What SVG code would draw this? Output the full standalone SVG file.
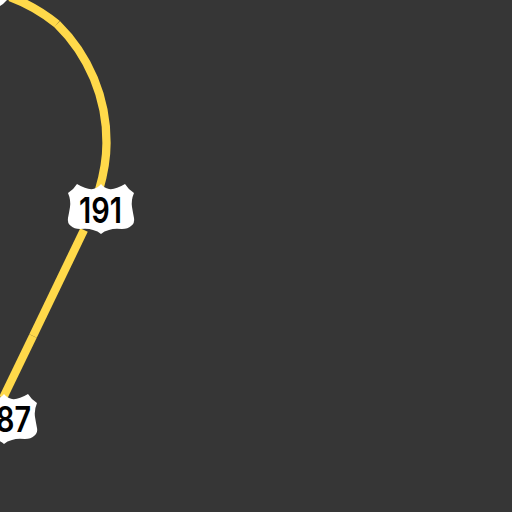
<svg xmlns="http://www.w3.org/2000/svg" width="512" height="512" viewBox="0 0 512 512">
<style>
.road{fill:none;stroke:#ffd94a;stroke-width:8.300}
.shield{fill:#fff}
.num{font-family:Inter,"Liberation Sans",sans-serif;font-size:35px;font-weight:600;fill:#000}
</style>
<defs>
<path id="s" d="M-24,-25 Q-14,-19 -8,-20 Q-3,-21 0,-25 Q3,-21 8,-20 Q14,-19 24,-25 Q27,-20 33,-16 Q30,-9 31,-2 Q32,4 33,9 Q34,14 30,17 Q27,20 21,20 Q13,19 8,21 Q3,22 0,25 Q-3,22 -8,21 Q-13,19 -21,20 Q-27,20 -30,17 Q-34,14 -33,9 Q-32,4 -31,-2 Q-30,-9 -33,-16 Q-27,-20 -24,-25 Z"/>
</defs>
<rect width="512" height="512" fill="#363636"/>
<g id="connectors">
<path class="road" d="M10,-3 A165,165 0 0 1 57,24"/>
<path class="road" d="M57,24 A165,165 0 0 1 106.500,143"/>
<path class="road" d="M106.500,143 Q106.500,165 99,190"/>
<path class="road" d="M84,230 L33,336"/>
<path class="road" d="M33,336 L3,398"/>
</g>
<g id="shield-top"><path class="shield" d="M0,0 H7 L3,4 L0,6 Z"/></g>
<g id="shield-191"><use href="#s" class="shield" x="101" y="209"/><text class="num" x="100.500" y="223" text-anchor="middle" textLength="43" lengthAdjust="spacingAndGlyphs">191</text></g>
<g id="shield-87"><use href="#s" class="shield" x="4" y="419"/><text class="num" x="-4" y="432" textLength="35" lengthAdjust="spacingAndGlyphs">87</text></g>
</svg>
